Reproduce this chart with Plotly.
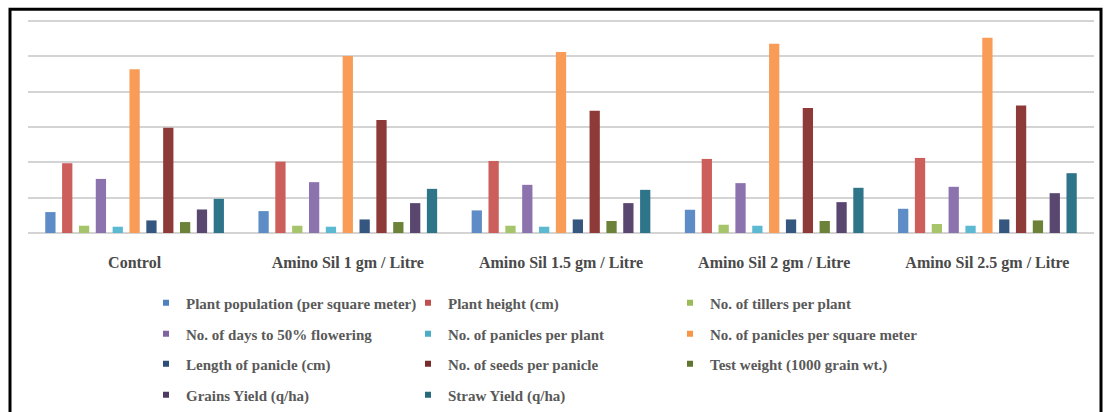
import plotly.graph_objects as go

categories = ["Control", "Amino Sil 1 gm / Litre", "Amino Sil 1.5 gm / Litre",
              "Amino Sil 2 gm / Litre", "Amino Sil 2.5 gm / Litre"]

series_names = [
    "Plant population (per square meter)", "Plant height (cm)", "No. of tillers per plant",
    "No. of days to 50% flowering", "No. of panicles per plant", "No. of panicles per square meter",
    "Length of panicle (cm)", "No. of seeds per panicle", "Test weight (1000 grain wt.)",
    "Grains Yield (q/ha)", "Straw Yield (q/ha)",
]

plant_population = [29.6, 31.0, 32.0, 32.9, 34.3]
plant_height = [98.8, 101.0, 102.0, 104.9, 106.3]
tillers_per_plant = [10.3, 10.3, 10.3, 11.7, 12.7]
days_to_flowering = [76.6, 72.0, 68.2, 70.6, 65.4]
panicles_per_plant = [8.9, 8.9, 8.9, 10.3, 10.3]
panicles_per_sqm = [231.9, 250.7, 256.3, 268.0, 276.6]
panicle_length = [17.8, 19.2, 19.2, 19.2, 19.2]
seeds_per_panicle = [149.0, 160.0, 173.0, 176.9, 180.6]
test_weight = [15.5, 15.5, 17.0, 17.0, 17.8]
grain_yield = [33.3, 42.3, 42.3, 43.7, 56.4]
straw_yield = [48.4, 62.5, 61.1, 64.0, 84.7]

series_values = [plant_population, plant_height, tillers_per_plant, days_to_flowering,
                 panicles_per_plant, panicles_per_sqm, panicle_length, seeds_per_panicle,
                 test_weight, grain_yield, straw_yield]

bar_colors = ["#5E8CC6", "#CC5F5C", "#A6C46A", "#8C73AE", "#5BBAD2", "#F89C57",
              "#34567F", "#8E3A38", "#6C8238", "#5A476F", "#2E7589"]
legend_colors = ["#4F81BD", "#C0504D", "#9BBB59", "#8064A2", "#4BACC6", "#F79646",
                 "#2C4D75", "#772C2A", "#5F7530", "#4D3B62", "#276A7C"]

fig = go.Figure()

legend_ids = ["legend", "legend2", "legend3", "legend4"]

for i, (name, vals) in enumerate(zip(series_names, series_values)):
    fig.add_trace(go.Bar(
        x=categories, y=vals, name=name, showlegend=False,
        marker=dict(color=bar_colors[i], line=dict(width=0)),
    ))

for i, name in enumerate(series_names):
    fig.add_trace(go.Scatter(
        x=[None], y=[None], mode="markers", name=name,
        marker=dict(symbol="square", size=6, color=legend_colors[i]),
        legend=legend_ids[i // 3], showlegend=True, hoverinfo="skip",
    ))

W, H = 1105, 412
Y_MAX = 303
px_per_unit = (233 - 21) / 300.0
L, R, B = 28, 11, H - 233
T = 21 - (Y_MAX - 300) * px_per_unit
pw, ph = W - L - R, H - T - B

def py(ypix):
    return (H - B - ypix) / ph

legend_font = dict(family="Liberation Serif", size=15, color="#595959", weight="bold")
leg_x = (146 - L) / pw
row_y = [303, 334, 364, 395]
legend_common = dict(orientation="h", x=leg_x, xanchor="left", yanchor="middle",
                     entrywidth=217, entrywidthmode="pixels", font=legend_font,
                     bgcolor="rgba(0,0,0,0)", borderwidth=0, itemclick=False,
                     itemdoubleclick=False)

fig.update_layout(
    width=W, height=H,
    margin=dict(l=L, r=R, t=T, b=B, autoexpand=False),
    paper_bgcolor="white", plot_bgcolor="white",
    barmode="group", bargap=0.131, bargroupgap=0.39,
    xaxis=dict(showgrid=False, showline=False, ticks="", ticklabelstandoff=18,
               tickfont=dict(family="Liberation Serif", size=16, color="#4A4A4A", weight="bold")),
    yaxis=dict(range=[0, Y_MAX], dtick=50, showticklabels=False, showgrid=True,
               gridcolor="#D4D4D4", gridwidth=1.5, zeroline=True, zerolinecolor="#D4D4D4",
               zerolinewidth=1.5, showline=False, fixedrange=True),
    legend=dict(**legend_common, y=py(row_y[0])),
    legend2=dict(**legend_common, y=py(row_y[1])),
    legend3=dict(**legend_common, y=py(row_y[2])),
    legend4=dict(**legend_common, y=py(row_y[3])),
    shapes=[dict(type="rect", xref="paper", yref="paper",
                 x0=(10 - L) / pw, x1=(1101 - L) / pw,
                 y0=py(420), y1=py(9),
                 line=dict(color="black", width=3), fillcolor="rgba(0,0,0,0)", layer="above")],
)

fig.write_html("out.html", config={"displayModeBar": False},
               post_script="document.body.style.margin='0';document.body.style.overflow='hidden';")
